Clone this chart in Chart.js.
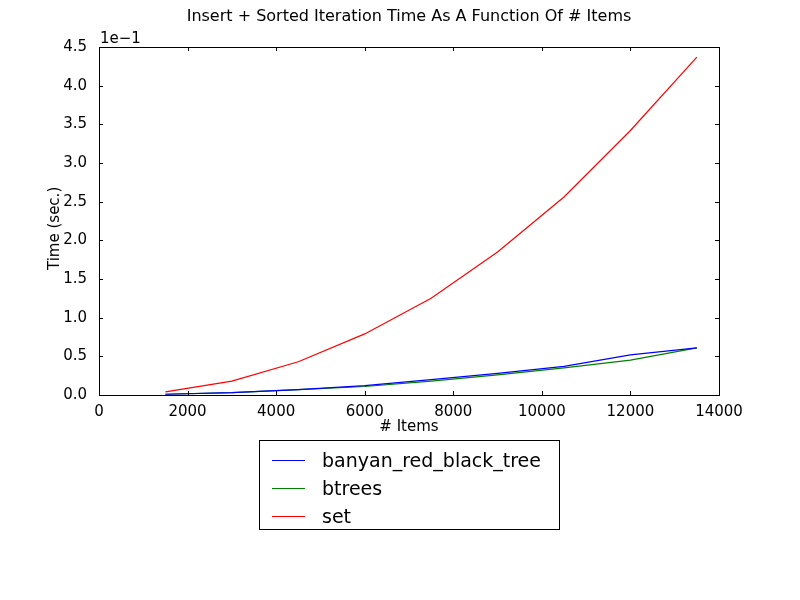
<!DOCTYPE html>
<html>
<head>
<meta charset="utf-8">
<script src="https://cdn.jsdelivr.net/npm/chart.js@4/dist/chart.umd.min.js"></script>
<style>
  body { margin: 0; background: #fff; font-family: "DejaVu Sans", sans-serif; }
  #wrap { position: relative; width: 800px; height: 600px; }
  canvas { position: absolute; left: 0; top: 0; }
  .txt { position: absolute; font-size: 15px; color: #000; white-space: nowrap; }
  #legend { position: absolute; left: 259px; top: 440px; width: 301px; height: 90px; border: 1px solid #000; box-sizing: border-box; font-size: 19px; }
  #legend div { position: absolute; left: 12px; display: flex; align-items: center; }
  #legend span.ln { display: inline-block; width: 33px; height: 0; border-top: 1px solid; margin-right: 17px; }
</style>
</head>
<body>
<div id="wrap">
  <canvas id="chart-canvas" width="800" height="600"></canvas>
  <div class="txt" style="left:0;width:818px;text-align:center;top:6px;font-size:16px">Insert + Sorted Iteration Time As A Function Of # Items</div>
  <div class="txt" style="left:100px;top:29px">1e&minus;1</div>
  <div class="txt" style="left:0;width:818px;text-align:center;top:417px">#&nbsp;Items</div>
  <div class="txt" style="left:45px;transform:rotate(-90deg);transform-origin:left top;top:270px">Time (sec.)</div>
  <div id="legend"></div>
</div>
<script>
const ITEMS = [1500, 3000, 4500, 6000, 7500, 9000, 10500, 12000, 13500];
const SERIES_NAMES = ['banyan_red_black_tree', 'btrees', 'set'];
const SERIES_COLORS = ['#0000ff', '#008000', '#ff0000'];
// values in units of 1e-1 seconds
const BANYAN = [0.01, 0.03, 0.07, 0.12, 0.20, 0.28, 0.37, 0.52, 0.61];
const BTREES = [0.01, 0.03, 0.07, 0.11, 0.18, 0.26, 0.35, 0.45, 0.61];
const SET = [0.04, 0.18, 0.43, 0.79, 1.25, 1.85, 2.56, 3.42, 4.37];
const SERIES_VALUES = [BANYAN, BTREES, SET];

const legend = document.getElementById('legend');
SERIES_NAMES.forEach((name, i) => {
  const row = document.createElement('div');
  row.style.top = (8 + i * 28) + 'px';
  row.innerHTML = `<span class="ln" style="border-color:${SERIES_COLORS[i]}"></span>${name}`;
  legend.appendChild(row);
});

const frame = {
  id: 'frame',
  afterDraw(chart) {
    const { ctx, chartArea: a, scales } = chart;
    ctx.save();
    ctx.strokeStyle = '#000';
    ctx.lineWidth = 1;
    ctx.strokeRect(a.left + 0.5, a.top + 0.5, a.right - a.left, a.bottom - a.top);
    ctx.beginPath();
    scales.x.ticks.forEach(t => {
      const x = Math.round(scales.x.getPixelForValue(t.value)) + 0.5;
      ctx.moveTo(x, a.bottom); ctx.lineTo(x, a.bottom - 4);
      ctx.moveTo(x, a.top); ctx.lineTo(x, a.top + 4);
    });
    scales.y.ticks.forEach(t => {
      const y = Math.round(scales.y.getPixelForValue(t.value)) + 0.5;
      ctx.moveTo(a.left, y); ctx.lineTo(a.left + 4, y);
      ctx.moveTo(a.right, y); ctx.lineTo(a.right - 4, y);
    });
    ctx.stroke();
    ctx.restore();
  }
};

new Chart(document.getElementById('chart-canvas'), {
  type: 'line',
  data: {
    datasets: SERIES_NAMES.map((name, i) => ({
      label: name,
      data: ITEMS.map((x, j) => ({ x, y: SERIES_VALUES[i][j] })),
      borderColor: SERIES_COLORS[i],
      borderWidth: 1.2,
      pointRadius: 0,
      tension: 0,
      fill: false,
    })),
  },
  options: {
    responsive: false,
    animation: false,
    layout: { padding: { top: 47, right: 81, left: 0, bottom: 0 } },
    plugins: { legend: { display: false }, tooltip: { enabled: false }, title: { display: false } },
    scales: {
      x: {
        type: 'linear', min: 0, max: 14000,
        afterFit: s => { s.height = 205; },
        ticks: { stepSize: 2000, color: '#000', font: { family: 'DejaVu Sans', size: 15 }, padding: 0, maxRotation: 0, callback: v => String(v) },
        grid: { display: false },
        border: { display: false },
      },
      y: {
        min: 0, max: 4.5,
        afterFit: s => { s.width = 99; },
        ticks: { stepSize: 0.5, color: '#000', font: { family: 'DejaVu Sans', size: 15 }, padding: 4, callback: v => v.toFixed(1) },
        grid: { display: false },
        border: { display: false },
      },
    },
  },
  plugins: [frame],
});
</script>
</body>
</html>
